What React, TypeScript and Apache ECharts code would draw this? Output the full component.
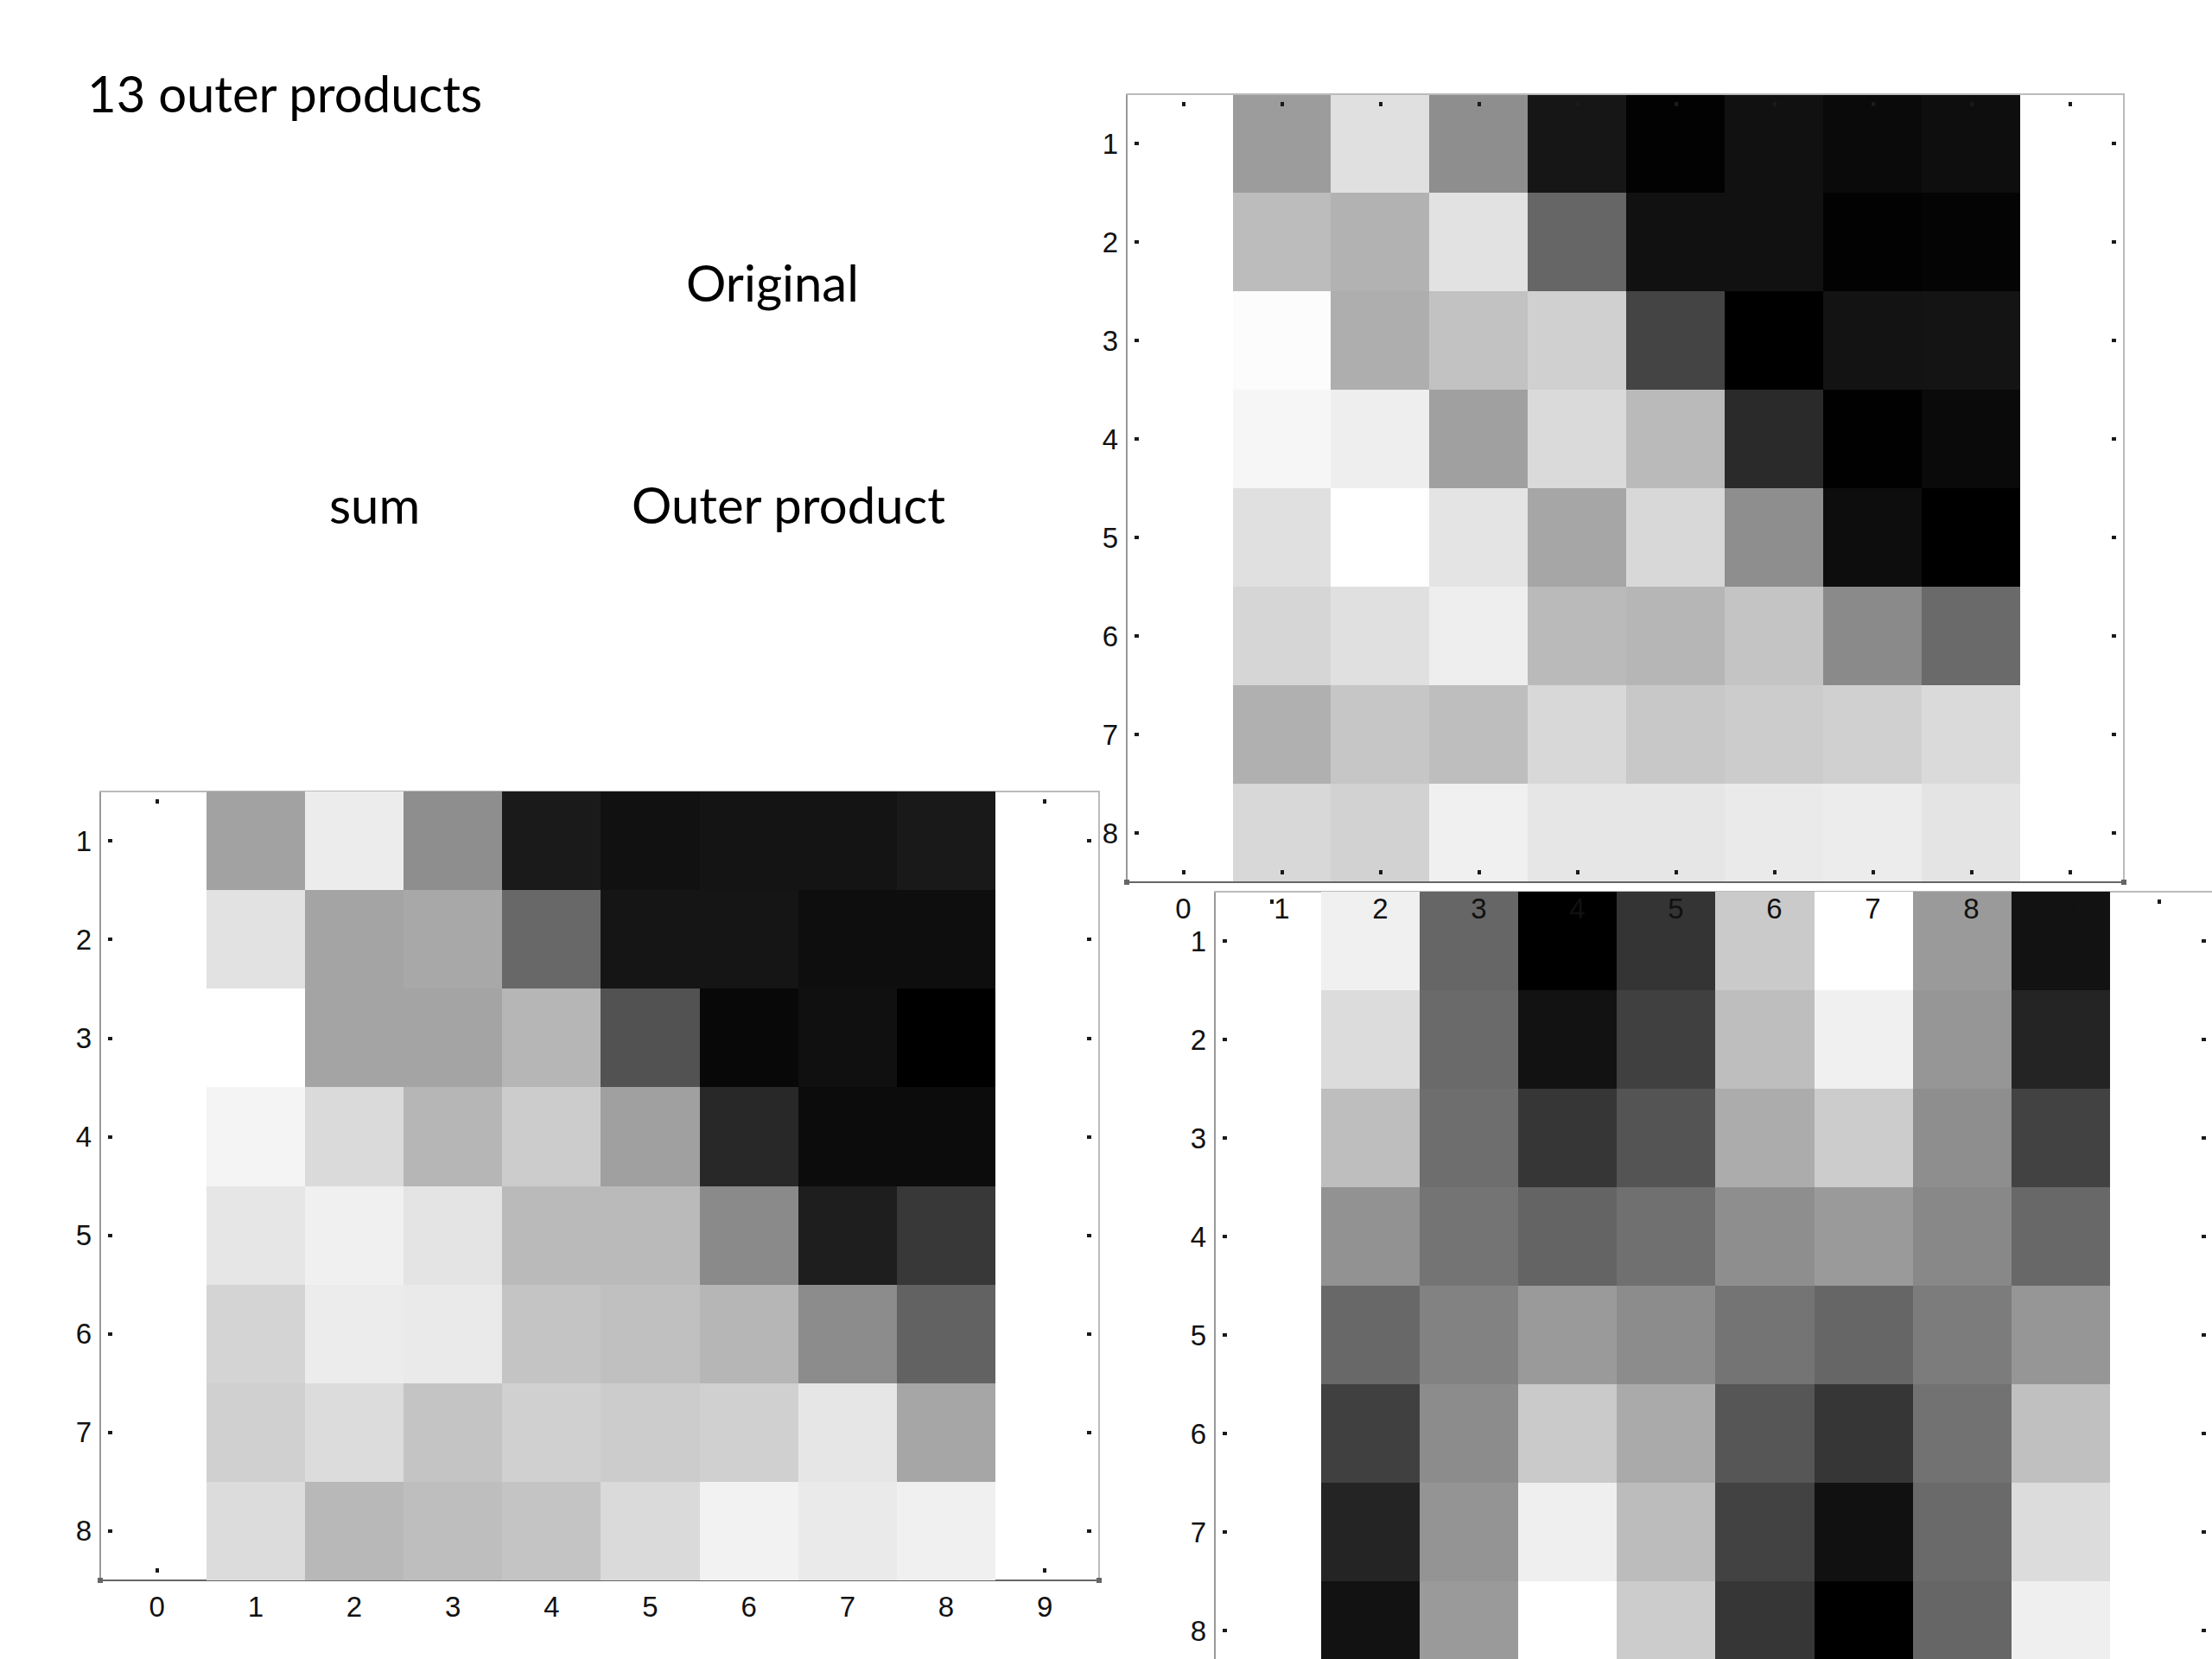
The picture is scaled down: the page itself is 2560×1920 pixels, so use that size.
import React, { useEffect, useRef } from "react";
import * as echarts from "echarts";

// Grey levels (0 = black, 255 = white), rows 1..8, columns 1..8
const ORIGINAL: number[][] = [
  [156, 224, 142, 22, 2, 17, 10, 14],
  [188, 178, 226, 102, 17, 17, 2, 4],
  [252, 174, 194, 208, 68, 0, 19, 20],
  [246, 238, 160, 218, 186, 42, 1, 10],
  [224, 255, 228, 166, 216, 142, 13, 0],
  [214, 224, 238, 186, 182, 196, 138, 106],
  [176, 198, 190, 216, 200, 204, 208, 218],
  [216, 210, 240, 230, 230, 234, 236, 228],
];

const SUM: number[][] = [
  [162, 236, 142, 26, 17, 20, 20, 25],
  [226, 164, 168, 104, 21, 21, 14, 14],
  [255, 164, 164, 182, 82, 8, 16, 0],
  [244, 218, 182, 204, 160, 40, 12, 12],
  [230, 240, 228, 186, 186, 138, 30, 56],
  [212, 236, 234, 196, 192, 182, 140, 98],
  [208, 220, 196, 208, 204, 208, 230, 166],
  [220, 184, 190, 196, 218, 242, 234, 240],
];

const OUTER: number[][] = [
  [240, 102, 0, 52, 202, 255, 154, 18],
  [220, 106, 18, 64, 190, 240, 150, 36],
  [190, 110, 54, 84, 172, 204, 142, 66],
  [146, 116, 100, 112, 142, 154, 136, 104],
  [104, 130, 154, 140, 116, 102, 124, 150],
  [64, 140, 202, 170, 86, 54, 114, 192],
  [36, 148, 239, 188, 66, 17, 106, 220],
  [18, 154, 255, 204, 54, 0, 102, 239],
];

const COLS = [1, 2, 3, 4, 5, 6, 7, 8];
const ROWS = [1, 2, 3, 4, 5, 6, 7, 8];
const X_TICKS = [0, 1, 2, 3, 4, 5, 6, 7, 8, 9];
const Y_TICKS = [1, 2, 3, 4, 5, 6, 7, 8];

const TITLE = "13 outer products";
const LABEL_ORIGINAL = "Original";
const LABEL_SUM = "sum";
const LABEL_OUTER = "Outer product";

const X_MIN = -0.575;
const X_MAX = 9.55;
const Y_MIN = 0.5;
const Y_MAX = 8.5;

function toData(m: number[][]) {
  const out: number[][] = [];
  ROWS.forEach((r, ri) => {
    COLS.forEach((c, ci) => {
      out.push([c, r, m[ri][ci]]);
    });
  });
  return out;
}

const TICK_STYLE = { color: "#1a1a1a", width: 4, type: [0, 9, 5, 60] as any };
const LABEL_FONT = {
  fontSize: 33,
  fontFamily: "Liberation Sans, Arial, sans-serif",
  color: "#111",
};

function xAxes(gridIndex: number, z: number, showLabels: boolean) {
  return [
    {
      type: "value",
      gridIndex,
      position: "bottom",
      min: X_MIN,
      max: X_MAX,
      z,
      axisLine: {
        show: true,
        lineStyle: { color: "#666", width: 2 },
        symbol: ["rect", "rect"],
        symbolSize: [6, 6],
      },
      axisTick: { show: true, inside: true, length: 14, customValues: X_TICKS, lineStyle: TICK_STYLE },
      axisLabel: { show: showLabels, customValues: X_TICKS, margin: 14, ...LABEL_FONT },
      splitLine: { show: false },
    },
    {
      type: "value",
      gridIndex,
      position: "top",
      min: X_MIN,
      max: X_MAX,
      z,
      axisLine: { show: true, onZero: false, lineStyle: { color: "#bbb", width: 2 } },
      axisTick: { show: true, inside: true, length: 14, customValues: X_TICKS, lineStyle: TICK_STYLE },
      axisLabel: { show: false },
      splitLine: { show: false },
    },
  ];
}

function yAxes(gridIndex: number, z: number) {
  return [
    {
      type: "value",
      gridIndex,
      position: "left",
      inverse: true,
      min: Y_MIN,
      max: Y_MAX,
      z,
      axisLine: { show: true, onZero: false, lineStyle: { color: "#999", width: 2 } },
      axisTick: { show: true, inside: true, length: 14, customValues: Y_TICKS, lineStyle: TICK_STYLE },
      axisLabel: { show: true, customValues: Y_TICKS, margin: 10, ...LABEL_FONT },
      splitLine: { show: false },
    },
    {
      type: "value",
      gridIndex,
      position: "right",
      inverse: true,
      min: Y_MIN,
      max: Y_MAX,
      z,
      axisLine: { show: true, onZero: false, lineStyle: { color: "#bbb", width: 2 } },
      axisTick: { show: true, inside: true, length: 14, customValues: Y_TICKS, lineStyle: TICK_STYLE },
      axisLabel: { show: false },
      splitLine: { show: false },
    },
  ];
}

function cellSeries(gridIndex: number, m: number[][]) {
  return {
    type: "custom",
    xAxisIndex: gridIndex * 2,
    yAxisIndex: gridIndex * 2,
    data: toData(m),
    z: 2,
    silent: true,
    renderItem: (_params: any, api: any) => {
      const x = api.value(0);
      const y = api.value(1);
      const v = api.value(2);
      const p0 = api.coord([x - 0.5, y - 0.5]);
      const p1 = api.coord([x + 0.5, y + 0.5]);
      const x0 = Math.round(Math.min(p0[0], p1[0]));
      const x1 = Math.round(Math.max(p0[0], p1[0]));
      const y0 = Math.round(Math.min(p0[1], p1[1]));
      const y1 = Math.round(Math.max(p0[1], p1[1]));
      return {
        type: "rect",
        shape: { x: x0, y: y0, width: x1 - x0, height: y1 - y0 },
        style: { fill: `rgb(${v},${v},${v})`, stroke: null },
      };
    },
  };
}

function textEl(text: string, x: number, y: number) {
  return {
    type: "text",
    x,
    y,
    z: 20,
    style: {
      text,
      fill: "#000",
      font: "58px Lato, 'Open Sans', sans-serif",
      align: "left",
      verticalAlign: "middle",
      textAlign: "left",
      textVerticalAlign: "middle",
    },
  };
}

export default function App() {
  const ref = useRef<HTMLDivElement>(null);

  useEffect(() => {
    if (!ref.current) return;
    const chart = echarts.init(ref.current, undefined, { renderer: "svg" });
    const option: any = {
      animation: false,
      backgroundColor: "#fff",
      grid: [
        { left: 116, top: 916, width: 1156, height: 913, outerBoundsMode: "none", containLabel: false },
        { left: 1304, top: 109, width: 1154, height: 912, outerBoundsMode: "none", containLabel: false },
        { left: 1406, top: 1032, width: 1156, height: 912, outerBoundsMode: "none", containLabel: false },
      ],
      xAxis: [...xAxes(0, 0, true), ...xAxes(1, 10, true), ...xAxes(2, 0, false)],
      yAxis: [...yAxes(0, 0), ...yAxes(1, 10), ...yAxes(2, 0)],
      series: [cellSeries(0, SUM), cellSeries(1, ORIGINAL), cellSeries(2, OUTER)],
      graphic: [
        textEl(TITLE, 101, 107),
        textEl(LABEL_ORIGINAL, 794, 326),
        textEl(LABEL_SUM, 381, 583),
        textEl(LABEL_OUTER, 731, 583),
      ],
    };
    chart.setOption(option);
    return () => chart.dispose();
  }, []);

  return (
    <div
      ref={ref}
      style={{ position: "absolute", left: 0, top: 0, width: 2560, height: 1920 }}
    />
  );
}
